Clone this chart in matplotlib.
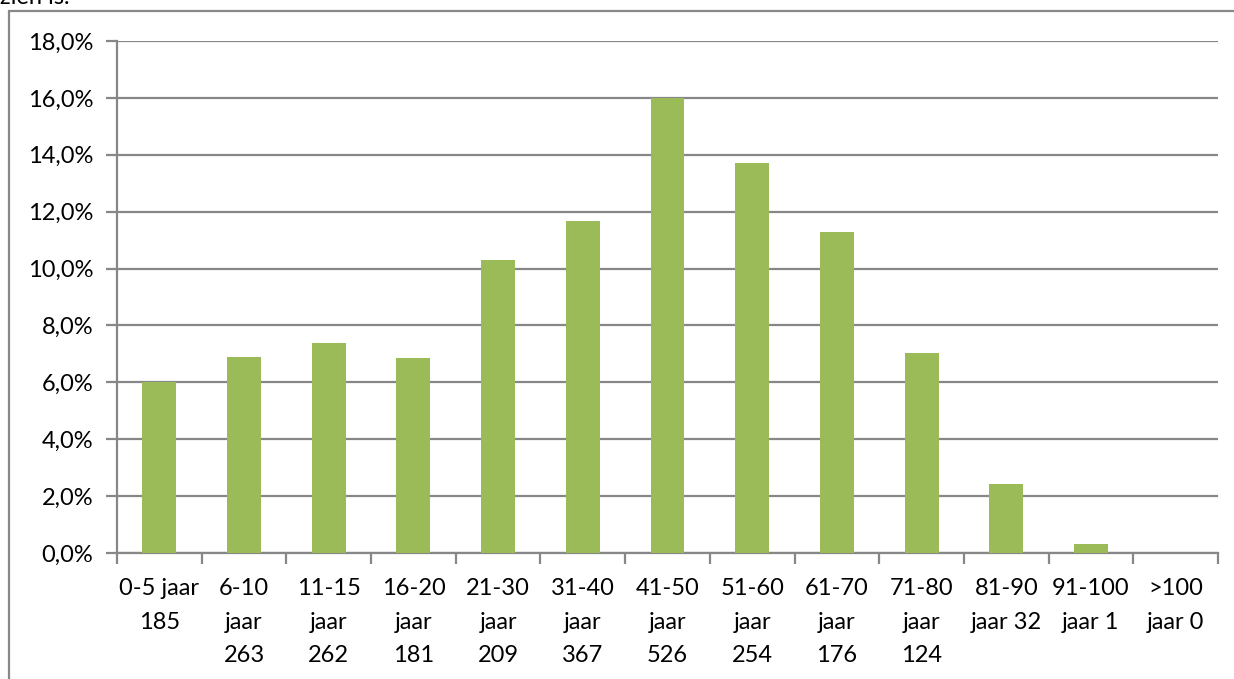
import numpy as np
import matplotlib
matplotlib.use('Agg')
import matplotlib.pyplot as plt
from matplotlib.patches import Rectangle
from matplotlib.ticker import FuncFormatter

# leeftijdsklassen met aantallen
categories = ["0-5 jaar\n185", "6-10\njaar\n263", "11-15\njaar\n262", "16-20\njaar\n181",
              "21-30\njaar\n209", "31-40\njaar\n367", "41-50\njaar\n526", "51-60\njaar\n254",
              "61-70\njaar\n176", "71-80\njaar\n124", "81-90\njaar 32", "91-100\njaar 1",
              ">100\njaar 0"]
percent = [6.0, 6.88, 7.38, 6.84, 10.31, 11.67, 16.0, 13.72, 11.29, 7.02, 2.42, 0.31, 0.0]
y_ticks = [0, 2, 4, 6, 8, 10, 12, 14, 16, 18]

plt.rcParams['font.family'] = ['Lato', 'DejaVu Sans']

fig = plt.figure(figsize=(12.34, 6.79), dpi=100)
ax = fig.add_axes([117/1234, 1-553/679, (1218-117)/1234, (553-41)/679])

grid_col = '#878787'
x = np.arange(len(categories))
ax.bar(x, percent, width=0.40, color='#9BBB59', zorder=3)

ax.set_xlim(-0.5, len(categories)-0.5)
ax.set_ylim(0, 18)
ax.set_yticks(y_ticks)
ax.yaxis.set_major_formatter(FuncFormatter(lambda v, p: ("%.1f%%" % v).replace('.', ',')))
ax.grid(axis='y', color=grid_col, linewidth=1.6, zorder=0)

ax.set_xticks(x)
ax.set_xticklabels(categories, fontsize=17, linespacing=1.75, va='top')
ax.set_xticks(np.arange(len(categories)+1) - 0.5, minor=True)
ax.tick_params(axis='x', which='major', length=0, pad=18)
ax.tick_params(axis='x', which='minor', length=8, width=1.6, color=grid_col)
ax.tick_params(axis='y', length=8, width=1.6, color=grid_col, labelsize=17, pad=9)

for s in ['top', 'right']:
	ax.spines[s].set_visible(False)
ax.spines['left'].set_color(grid_col)
ax.spines['left'].set_linewidth(1.6)
ax.spines['bottom'].set_color(grid_col)
ax.spines['bottom'].set_linewidth(1.6)

# kader om de grafiek
fig.patches.append(Rectangle((9/1234, -0.1), 1.2, 1-11/679+0.1, transform=fig.transFigure,
	fill=False, edgecolor='#888888', linewidth=1.6))
fig.text(0.0, 1-4/679, "zien is.", fontsize=17, va='baseline', ha='left')

fig.savefig("out.png", dpi=100)
plt.close()
